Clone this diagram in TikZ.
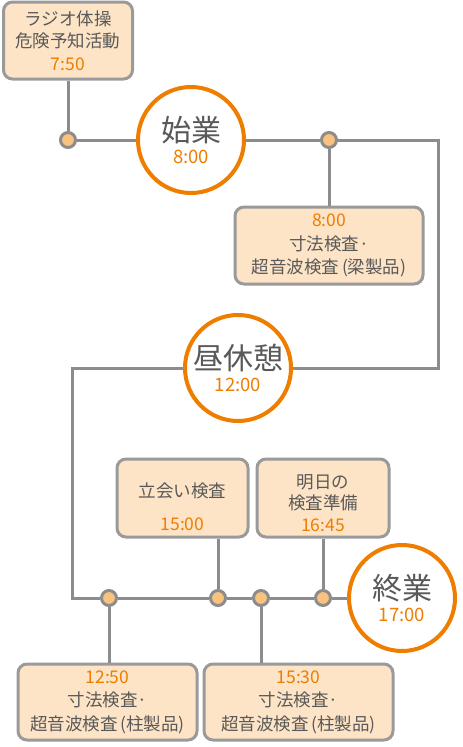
\documentclass[tikz,border=0pt]{standalone}
\usepackage{fontspec}
\setmainfont{Noto Sans CJK JP}
\usepackage{tikz}
\usetikzlibrary{positioning}

\definecolor{lgray}{HTML}{8C8C8C}
\definecolor{bgray}{HTML}{9A9A9A}
\definecolor{tgray}{HTML}{595959}
\definecolor{orng}{HTML}{EE7D00}
\definecolor{peach}{HTML}{FDE4C6}
\definecolor{dotfill}{HTML}{F9C27E}

\newcommand{\tm}[1]{{\fontsize{17.5}{23}\selectfont\color{orng}#1}}
\newcommand{\bigtm}[1]{{\fontsize{18.5}{23}\selectfont\color{orng}#1}}

\begin{document}
\begin{tikzpicture}[
    x=1pt, y=-1pt,
    font=\fontsize{17.5}{23.5}\selectfont,
    box/.style={draw=bgray, line width=3pt, rounded corners=9pt, fill=peach, inner sep=0pt, align=center, text=tgray},
    stage/.style={circle, draw=orng, line width=4pt, fill=white, minimum size=106pt, inner sep=0pt, align=center, text=tgray},
    dot/.style={circle, draw=lgray, line width=3pt, fill=dotfill, minimum size=15pt, inner sep=0pt},
    wire/.style={draw=lgray, line width=3pt}
]
\useasboundingbox (0,0) rectangle (463,747);

% ===== Milestones =====
\node[stage] (start) at (191,140) {\fontsize{30}{31}\selectfont 始業\\[-1pt]\bigtm{8:00}};
\node[stage] (lunch) at (238,368) {\fontsize{30}{31}\selectfont 昼休憩\\[-1pt]\bigtm{12:00}};
\node[stage] (finish) at (402,598) {\fontsize{30}{31}\selectfont 終業\\[-1pt]\bigtm{17:00}};

% ===== Tasks =====
\node[box, minimum width=129pt, minimum height=77pt] (radio) at (68,40.5) {ラジオ体操\\[-1pt]危険予知活動\\[-1pt]\tm{7:50}};
\node[box, minimum width=188pt, minimum height=77pt] (beam) at (329,245.5) {\tm{8:00}\\寸法検査·\\超音波検査\,(梁製品)};
\node[box, minimum width=131pt, minimum height=78pt] (witness) at (182.5,498) {\rule{0pt}{32pt}立会い検査\\[9pt]\tm{15:00}};
\node[box, minimum width=132pt, minimum height=78pt] (prep) at (323,498) {\rule{0pt}{24pt}明日の\\[-2pt]検査準備\\[-2pt]\tm{16:45}};
\node[box, minimum width=179pt, minimum height=76pt] (colA) at (107.5,702) {\tm{12:50}\\寸法検査·\\超音波検査\,(柱製品)};
\node[box, minimum width=189pt, minimum height=76pt] (colB) at (298.5,702) {\tm{15:30}\\寸法検査·\\超音波検査\,(柱製品)};

% ===== Dots =====
\node[dot] (dRadio) at (68,140) {};
\node[dot] (dBeam) at (329,140) {};
\node[dot] (dColA) at (109,598) {};
\node[dot] (dWit) at (218,598) {};
\node[dot] (dColB) at (261,598) {};
\node[dot] (dPrep) at (323,598) {};

% ===== Turns =====
\coordinate (turnR) at (438,368);
\coordinate (turnL) at (72,368);

% ===== Timeline =====
\path[wire] (radio) -- (dRadio);
\path[wire] (dRadio) -- (start);
\path[wire] (start) -- (dBeam);
\path[wire] (dBeam) -- (beam);
\path[wire] (dBeam) -| (turnR) -- (lunch);
\path[wire] (lunch) -- (turnL) |- (dColA);
\path[wire] (dColA) -- (dWit);
\path[wire] (dWit) -- (dColB);
\path[wire] (dColB) -- (dPrep);
\path[wire] (dPrep) -- (finish);

% branches off the afternoon line
\path[wire] (dColA) -- (dColA |- colA.north);
\path[wire] (dWit) -- (dWit |- witness.south);
\path[wire] (dColB) -- (dColB |- colB.north);
\path[wire] (dPrep) -- (prep);

\end{tikzpicture}
\end{document}
